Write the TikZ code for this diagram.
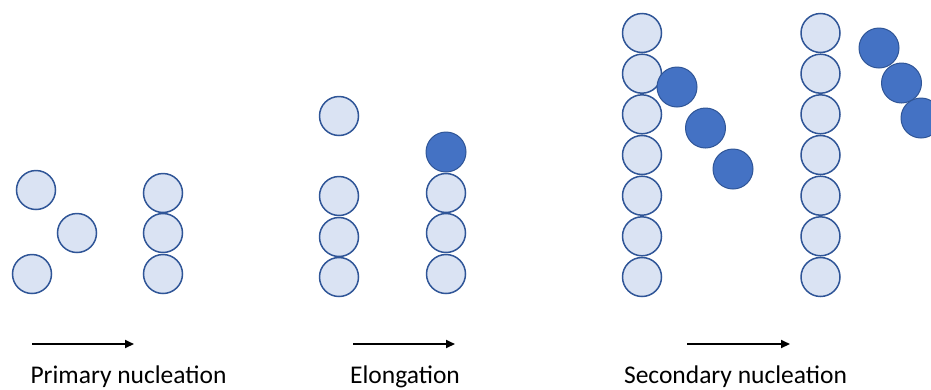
\documentclass[tikz,border=0pt]{standalone}
\usepackage{fontspec}
\setmainfont{Carlito}
\usetikzlibrary{arrows.meta}
\definecolor{lightfill}{HTML}{DAE3F3}
\definecolor{edgeblue}{HTML}{2F5597}
\definecolor{darkfill}{HTML}{4472C4}
\tikzset{
  mono/.style={circle, draw=edgeblue, fill=lightfill, line width=1.5pt, minimum size=39pt, inner sep=0pt},
  seed/.style={circle, draw=edgeblue, fill=darkfill, line width=1pt, minimum size=40pt, inner sep=0pt},
  procarrow/.style={line width=2pt, -{Triangle[length=9pt,width=8pt]}},
  caption/.style={anchor=base, inner sep=0pt, font=\fontsize{25.5}{30}\selectfont}
}
\begin{document}
\begin{tikzpicture}[x=1pt,y=-1pt]
\useasboundingbox (0,0) rectangle (931,389);
\begin{scope}
\clip (0,0) rectangle (931,389);
% Primary nucleation
\node[mono] (p1) at (36,190) {};
\node[mono] (p2) at (77,233) {};
\node[mono] (p3) at (32,274) {};
\node[mono] (q1) at (163,193) {};
\node[mono] (q2) at (163,233) {};
\node[mono] (q3) at (163,274) {};
% Elongation
\node[mono] (e0) at (339,116) {};
\node[mono] (e1) at (339,196) {};
\node[mono] (e2) at (339,237) {};
\node[mono] (e3) at (339,277) {};
\node[mono] (f1) at (446,193) {};
\node[mono] (f2) at (446,233) {};
\node[mono] (f3) at (446,274) {};
\node[seed] (fd) at (446,152) {};
% Secondary nucleation
\foreach \i/\y in {1/33,2/73.7,3/114.3,4/155,5/195.7,6/236.3,7/277}{
  \node[mono] (s\i) at (642,\y) {};
  \node[mono] (t\i) at (820.5,\y) {};
}
\node[seed] (sd1) at (677,87) {};
\node[seed] (sd2) at (705.5,128) {};
\node[seed] (sd3) at (733,169) {};
\node[seed] (td1) at (879,48) {};
\node[seed] (td2) at (901.5,83) {};
\node[seed] (td3) at (921,118) {};
\end{scope}
% Arrows
\coordinate (a1s) at (32,344); \coordinate (a1e) at (134,344);
\coordinate (a2s) at (353,344); \coordinate (a2e) at (455,344);
\coordinate (a3s) at (687,344); \coordinate (a3e) at (790,344);
\draw[procarrow] (a1s) -- (a1e);
\draw[procarrow] (a2s) -- (a2e);
\draw[procarrow] (a3s) -- (a3e);
% Captions
\node[caption] (c1) at (128.5,383) {Primary nucleation};
\node[caption] (c2) at (405,383) {Elongation};
\node[caption] (c3) at (735.5,383) {Secondary nucleation};
\end{tikzpicture}
\end{document}
